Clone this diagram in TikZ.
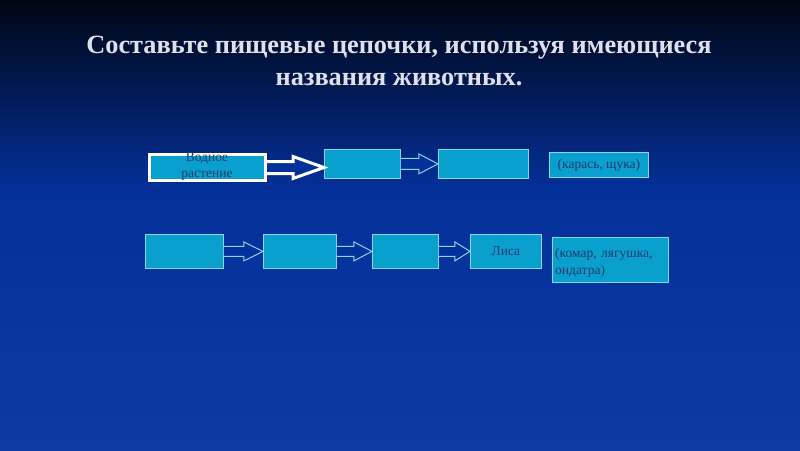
\documentclass[tikz,border=0pt]{standalone}
\usepackage{fontspec}
\setmainfont{Liberation Serif}
\usetikzlibrary{calc}
\definecolor{bgtop}{HTML}{000614}
\definecolor{bgmid}{HTML}{04309A}
\definecolor{bgbot}{HTML}{0A3CA4}
\definecolor{boxfill}{HTML}{0AA0CE}
\definecolor{boxline}{HTML}{8AD4F0}
\definecolor{boxtext}{HTML}{1B3A6E}
\definecolor{titlec}{HTML}{E0E0EC}
\definecolor{arrfill}{HTML}{04309A}
\tikzset{
  cbox/.style={draw=boxline, line width=0.8pt, fill=boxfill, inner sep=0pt, text=boxtext, font=\fontsize{13.5}{17}\selectfont},
  wbox/.style={cbox, draw=white, line width=3pt},
  boxlabel/.style={text=boxtext, font=\fontsize{13.5}{16.5}\selectfont, inner sep=0pt},
  barrow/.style={draw=boxline, line width=1pt, fill=arrfill, line join=miter},
  warrow/.style={draw=white, line width=3pt, fill=arrfill, line join=miter},
}
\newcommand\blockarr[6]{% style, from, to, shaft half, head half, shaft length
  \draw[#1] let \p1=(#2.east), \p2=(#3.west) in
    (\x1,{\y1+#4pt}) -- ({\x1+#6pt},{\y1+#4pt}) -- ({\x1+#6pt},{\y1+#5pt}) -- (\x2,\y1)
    -- ({\x1+#6pt},{\y1-#5pt}) -- ({\x1+#6pt},{\y1-#4pt}) -- (\x1,{\y1-#4pt});}
\begin{document}
\begin{tikzpicture}[x=1pt,y=-1pt]
\useasboundingbox (0,0) rectangle (800,450);
\shade[top color=bgtop, bottom color=bgmid] (0,0) rectangle (800,190);
\shade[top color=bgmid, bottom color=bgbot] (0,190) rectangle (800,450);
\node[text=titlec, font=\fontsize{26.3}{32}\selectfont\bfseries, align=center] (title) at (399,61)
  {Составьте пищевые цепочки, используя имеющиеся\\названия животных.};
% row 1
\node[wbox, minimum width=116, minimum height=26, anchor=north west] (a) at (148,153) {};
\node[boxlabel, align=center] (atext) at (207,166.5) {Водное\\растение};
\node[cbox, minimum width=76, minimum height=29, anchor=north west] (b) at (324,149) {};
\node[cbox, minimum width=90, minimum height=29, anchor=north west] (c) at (438,149) {};
\node[cbox, minimum width=99, minimum height=25, anchor=north west] (d) at (549,152) {(карась, щука)};
\blockarr{warrow}{a}{b}{6}{11}{26}
\blockarr{barrow}{b}{c}{5.5}{10}{18}
% row 2
\node[cbox, minimum width=78, minimum height=34, anchor=north west] (r1) at (145,234) {};
\node[cbox, minimum width=73, minimum height=34, anchor=north west] (r2) at (263,234) {};
\node[cbox, minimum width=66, minimum height=34, anchor=north west] (r3) at (372,234) {};
\node[cbox, minimum width=71, minimum height=34, anchor=north west] (r4) at (470,234) {Лиса};
\node[cbox, minimum width=116, minimum height=45, anchor=north west] (e) at (552,237) {};
\node[boxlabel, text width=112, align=left, anchor=west] (etext) at (555,262.5) {(комар, лягушка, ондатра)};
\blockarr{barrow}{r1}{r2}{5}{9.5}{20}
\blockarr{barrow}{r2}{r3}{5}{9.5}{17}
\blockarr{barrow}{r3}{r4}{5}{9.5}{16}
\end{tikzpicture}
\end{document}
